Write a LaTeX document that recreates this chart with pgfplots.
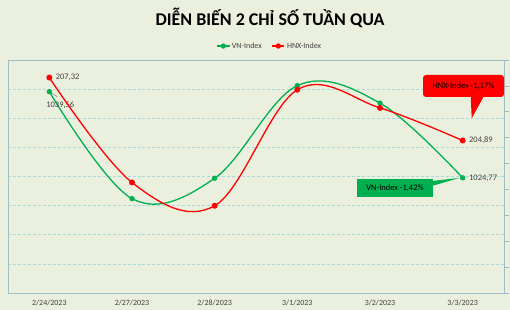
\documentclass[border=0pt]{standalone}
\usepackage{pgfplots}
\pgfplotsset{compat=1.18}
\usepackage{fontspec}
\setmainfont{Carlito}
\definecolor{bg}{RGB}{235,240,222}
\definecolor{vn}{RGB}{0,176,80}
\definecolor{hnx}{RGB}{255,0,0}
\definecolor{gridc}{RGB}{170,218,222}
\definecolor{framec}{RGB}{160,190,200}
\definecolor{txt}{RGB}{64,64,64}
\begin{document}
\begin{tikzpicture}
\fill[bg] (-8bp,-17bp) rectangle (502bp,293bp);
\begin{axis}[
  at={(0,0)}, anchor=south west, scale only axis,
  width=496bp, height=233bp,
  xmin=-0.5, xmax=5.5, xtick={0,1,2,3,4,5},
  xticklabels={2/24/2023,2/27/2023,2/28/2023,3/1/2023,3/2/2023,3/3/2023},
  ymin=1005, ymax=1045, ytick={1005,1010,...,1045}, yticklabels={},
  ymajorgrids, grid style={gridc, densely dashed, line width=0.6pt},
  axis line style={framec, line width=0.6pt},
  major tick length=0pt,
  tick label style={font=\fontsize{8}{9}\selectfont, text=txt},
  xticklabel style={yshift=-3bp},
  legend style={at={(0.528,1.06)}, anchor=center, draw=none, fill=none,
    font=\fontsize{8}{9}\selectfont, text=txt, legend columns=2,
    /tikz/every even column/.append style={column sep=8bp}},
  legend image code/.code={\draw[#1, mark repeat=2, mark phase=2] plot coordinates {(0bp,0bp) (6bp,0bp) (12bp,0bp)};},
  clip=false,
]
\addplot[vn, line width=1.3pt, smooth, tension=0.6, mark=*, mark size=2pt, mark options={solid}]
  coordinates {(0,1039.56) (1,1021.2) (2,1024.7) (3,1040.6) (4,1037.6) (5,1024.77)};
\addlegendentry{VN-Index}
\addlegendimage{hnx, line width=1.3pt, mark=*, mark size=2pt}
\addlegendentry{HNX-Index}
\draw[gray, line width=0.5pt] (axis cs:0,1039.56) -- ++(8bp,-5bp);
\node[font=\fontsize{8.5}{10}\selectfont, text=txt, xshift=11bp, yshift=-13bp] at (axis cs:0,1039.56) {1039,56};
\node[font=\fontsize{8.5}{10}\selectfont, text=txt, anchor=west, xshift=3bp] at (axis cs:5,1024.77) {1024,77};
\end{axis}
\begin{axis}[
  at={(0,0)}, anchor=south west, scale only axis,
  width=496bp, height=233bp,
  xmin=-0.5, xmax=5.5, axis x line=none,
  axis y line*=right,
  ymin=199, ymax=208, ytick={199,200,...,208}, yticklabels={},
  axis line style={framec, line width=0.6pt},
  ytick style={framec, line width=0.6pt},
  tick align=outside, major tick length=5bp,
  clip=false,
]
\addplot[hnx, line width=1.3pt, smooth, tension=0.6, mark=*, mark size=2.3pt, mark options={solid}]
  coordinates {(0,207.32) (1,203.27) (2,202.37) (3,206.85) (4,206.15) (5,204.89)};
\node[font=\fontsize{8.5}{10}\selectfont, text=txt, anchor=west, xshift=3bp] at (axis cs:0,207.32) {207,32};
\node[font=\fontsize{8.5}{10}\selectfont, text=txt, anchor=west, xshift=3bp] at (axis cs:5,204.89) {204,89};
\end{axis}
% callouts
\fill[hnx, rounded corners=3bp] (415bp,196bp) rectangle (496bp,218bp);
\fill[hnx] (462.7bp,197bp) -- (463.7bp,174.7bp) -- (476bp,197bp) -- cycle;
\node[font=\fontsize{8.5}{10}\selectfont, text=black] at (455.5bp,207bp) {HNX-Index -1,17\%};
\fill[vn] (349bp,96bp) rectangle (425bp,114bp);
\fill[vn] (424bp,107bp) -- (451bp,115bp) -- (424bp,112bp) -- cycle;
\node[font=\fontsize{8.5}{10}\selectfont, text=black] at (387bp,105bp) {VN-Index -1,42\%};
\node[font=\fontsize{18}{20}\selectfont\bfseries, text=black] at (262bp,275bp) {DIỄN BIẾN 2 CHỈ SỐ TUẦN QUA};
\pgfresetboundingbox
\path (-8bp,-17bp) rectangle (502bp,293bp);
\end{tikzpicture}
\end{document}
